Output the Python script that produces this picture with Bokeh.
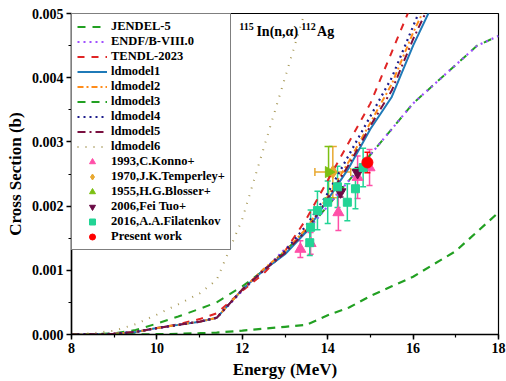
import math
from bokeh.plotting import figure
from bokeh.models import (ColumnDataSource, Whisker, TeeHead, Label,
                          SingleIntervalTicker, NumeralTickFormatter)
from bokeh.embed import file_html
from bokeh.resources import INLINE

# ---------------- data ----------------
E = [8, 8.5, 9, 9.5, 10, 10.5, 11, 11.4, 12, 12.5, 13, 13.5, 14, 14.5, 15,
     15.5, 16, 16.5, 17, 17.5, 18]

jendel5 = [0, 0.000005, 0.00002, 0.00007, 0.00017, 0.00028, 0.0004, 0.0005,
           0.00075, 0.001, 0.0013, 0.00162, 0.002, 0.0024, 0.0028, 0.0032,
           0.0036, 0.0039, 0.0042, 0.0045, 0.00465]
endf = [0, 0.000003, 0.00001, 0.00004, 0.0001, 0.00015, 0.0002, 0.00026,
        0.00068, 0.001, 0.00133, 0.0016, 0.002, 0.0024, 0.0028, 0.0032,
        0.0036, 0.0039, 0.0042, 0.0045, 0.00465]
tendl = [0, 0.000003, 0.00001, 0.00004, 0.0001, 0.00016, 0.00024, 0.00033,
         0.00068, 0.00095, 0.0013, 0.0018, 0.0024, 0.003, 0.0036, 0.0044,
         0.0052]
ld1 = [0, 0.000003, 0.00001, 0.00004, 0.0001, 0.00015, 0.0002, 0.00026,
       0.0007, 0.001, 0.00125, 0.0016, 0.0021, 0.0026, 0.0032, 0.0037,
       0.0045, 0.0052]
ld2 = [0, 0.000003, 0.00001, 0.00004, 0.0001, 0.00015, 0.0002, 0.00026,
       0.0007, 0.00102, 0.0013, 0.00165, 0.00215, 0.0027, 0.0033, 0.0039,
       0.0047, 0.0054]
ld3 = [0, 0, 0, 0.000002, 0.000005, 0.00001, 0.00002, 0.00003, 0.00006,
       0.00009, 0.00012, 0.00015, 0.0003, 0.00042, 0.0006, 0.00075, 0.0009,
       0.0011, 0.0013, 0.0016, 0.0019]
ld4 = [0, 0.000003, 0.00001, 0.00004, 0.0001, 0.00015, 0.0002, 0.00026,
       0.0007, 0.001, 0.0013, 0.0017, 0.0022, 0.0028, 0.0034, 0.004, 0.0048,
       0.0056]
ld5 = [0, 0.000003, 0.00001, 0.00004, 0.0001, 0.00015, 0.0002, 0.00026,
       0.0007, 0.001, 0.00127, 0.00162, 0.00212, 0.00265, 0.00325, 0.0038,
       0.0046, 0.0053]
ld6 = [0, 0.00002, 0.00006, 0.00016, 0.00031, 0.00047, 0.00064, 0.00085,
       0.0018, 0.0029, 0.004, 0.0051]

konno_E = [13.36, 13.6, 14.25, 14.7, 14.98]
konno_s = [0.00133, 0.00142, 0.0019, 0.00245, 0.0026]
konno_err = [0.00013, 0.00017, 0.00028, 0.00033, 0.00028]

temperley_E = [14.12]
temperley_s = [0.00253]
temperley_xerr = [0.42]
temperley_err = [0.0004]

blosser_E = [14.02]
blosser_s = [0.00253]
blosser_err = [0.0004]

tuo_E = [14.3, 14.7]
tuo_s = [0.00222, 0.00252]
tuo_err = [0.00008, 0.00008]

fila_E = [13.58, 13.6, 13.76, 14.0, 14.23, 14.46, 14.65, 14.83]
fila_s = [0.00143, 0.00167, 0.00193, 0.00206, 0.0023, 0.00206, 0.00227, 0.0026]
fila_err = [0.0002, 0.00027, 0.0003, 0.00033, 0.00032, 0.00029, 0.00031, 0.0003]

present_E = [14.93]
present_s = [0.00268]
present_err = [0.00016]

FONT = "Liberation Serif"

p = figure(width=506, height=381, output_backend="svg", toolbar_location=None,
           x_range=(8, 18), y_range=(0, 0.005),
           min_border_left=71, min_border_right=8, min_border_top=13,
           min_border_bottom=46)
p.background_fill_color = "white"
p.border_fill_color = "white"
p.outline_line_color = "black"
p.outline_line_width = 1.2
p.xgrid.visible = False
p.ygrid.visible = False

# ---------------- model curves ----------------
curves = [
    ("JENDEL-5", jendel5, "#22a022", "8 7", 2),
    ("ENDF/B-VIII.0", endf, "#a050ff", "2 4", 2.2),
    ("TENDL-2023", tendl, "#e02525", "7 7", 2),
    ("ldmodel1", ld1, "#1f7ab8", "solid", 2),
    ("ldmodel2", ld2, "#ff8c1a", "6 3 2 3", 2),
    ("ldmodel3", ld3, "#22a022", "8 6", 2.2),
    ("ldmodel4", ld4, "#1c1c8c", "2 4", 2.2),
    ("ldmodel5", ld5, "#7a1040", "8 4 2 4", 2),
    ("ldmodel6", ld6, "#a89a5a", "1 7", 2),
]
for name, vals, col, dash, lw in curves:
    p.line(E[:len(vals)], vals, line_color=col, line_dash=dash,
           line_width=lw, legend_label=name)

# ---------------- experimental points ----------------
def yerr(xs, ys, es, col, head=6):
    src = ColumnDataSource(dict(base=xs, upper=[y + e for y, e in zip(ys, es)],
                                lower=[y - e for y, e in zip(ys, es)]))
    p.add_layout(Whisker(source=src, base="base", upper="upper", lower="lower",
                         dimension="height", line_color=col, line_width=1.5,
                         upper_head=TeeHead(size=head, line_color=col, line_width=1.5),
                         lower_head=TeeHead(size=head, line_color=col, line_width=1.5)))

def xerr(xs, ys, es, col, head=6):
    src = ColumnDataSource(dict(base=ys, upper=[x + e for x, e in zip(xs, es)],
                                lower=[x - e for x, e in zip(xs, es)]))
    p.add_layout(Whisker(source=src, base="base", upper="upper", lower="lower",
                         dimension="width", line_color=col, line_width=1.5,
                         upper_head=TeeHead(size=head, line_color=col, line_width=1.5),
                         lower_head=TeeHead(size=head, line_color=col, line_width=1.5)))

C_KONNO = "#ff4fa8"
C_TEMP = "#e8a830"
C_BLOS = "#7cc013"
C_TUO = "#6a0a45"
C_FILA = "#22d495"
C_PRES = "#ff0000"

yerr(konno_E, konno_s, konno_err, C_KONNO)
yerr(temperley_E, temperley_s, temperley_err, C_TEMP, 8)
xerr(temperley_E, temperley_s, temperley_xerr, C_TEMP, 8)
yerr(blosser_E, blosser_s, blosser_err, C_BLOS, 8)
yerr(tuo_E, tuo_s, tuo_err, C_TUO)
yerr(fila_E, fila_s, fila_err, C_FILA)
yerr(present_E, present_s, present_err, C_PRES)

p.scatter(konno_E, konno_s, marker="triangle", size=11, color=C_KONNO,
          legend_label="1993,C.Konno+")
p.scatter(temperley_E, temperley_s, marker="diamond", size=13, color=C_TEMP,
          legend_label="1970,J.K.Temperley+")
p.scatter(blosser_E, blosser_s, marker="triangle", angle=-math.pi / 2, size=11,
          color=C_BLOS, legend_label="1955,H.G.Blosser+")
p.scatter(tuo_E, tuo_s, marker="inverted_triangle", size=11, color=C_TUO,
          legend_label="2006,Fei Tuo+")
p.scatter(fila_E, fila_s, marker="square", size=8, color=C_FILA,
          legend_label="2016,A.A.Filatenkov")
p.scatter(present_E, present_s, marker="circle", size=11, color=C_PRES,
          legend_label="Present work")

# ---------------- axes ----------------
p.xaxis.ticker = SingleIntervalTicker(interval=2, num_minor_ticks=2)
p.yaxis.ticker = SingleIntervalTicker(interval=0.001, num_minor_ticks=2)
p.yaxis.formatter = NumeralTickFormatter(format="0.000")
for ax in (p.xaxis[0], p.yaxis[0]):
    ax.axis_line_width = 1.5
    ax.major_tick_line_width = 1.5
    ax.minor_tick_line_width = 1.2
    ax.major_tick_in = 0
    ax.major_tick_out = 5
    ax.minor_tick_in = 0
    ax.minor_tick_out = 3
    ax.major_label_text_font = FONT
    ax.major_label_text_font_style = "bold"
    ax.major_label_text_font_size = "14px"
    ax.major_label_text_color = "black"
    ax.axis_label_text_font = FONT
    ax.axis_label_text_font_style = "bold"
    ax.axis_label_text_font_size = "17px"
    ax.axis_label_text_color = "black"
    ax.major_label_standoff = 3
    ax.axis_label_standoff = 4
p.xaxis.axis_label = "Energy (MeV)"
p.yaxis.axis_label = "Cross Section (b)"

# ---------------- legend ----------------
leg = p.legend[0]
leg.location = "top_left"
leg.margin = 0
leg.padding = 5
leg.spacing = 0
leg.label_height = 15
leg.glyph_height = 15
leg.glyph_width = 30
leg.label_standoff = 4
leg.label_text_font = FONT
leg.label_text_font_style = "bold"
leg.label_text_font_size = "12.5px"
leg.label_text_color = "black"
leg.border_line_color = "black"
leg.border_line_width = 1.2
leg.background_fill_alpha = 1

# ---------------- reaction label ----------------
for txt, x, y, sz in [("115", 11.93, 0.00475, "10px"), ("In(n,\u03b1)", 12.33, 0.00460, "14px"),
                      ("112", 13.38, 0.00475, "10px"), ("Ag", 13.75, 0.00460, "14px")]:
    p.add_layout(Label(x=x, y=y, text=txt, text_font=FONT, text_font_style="bold",
                       text_font_size=sz, text_color="black"))

open("out.html", "w").write(file_html(p, INLINE))
